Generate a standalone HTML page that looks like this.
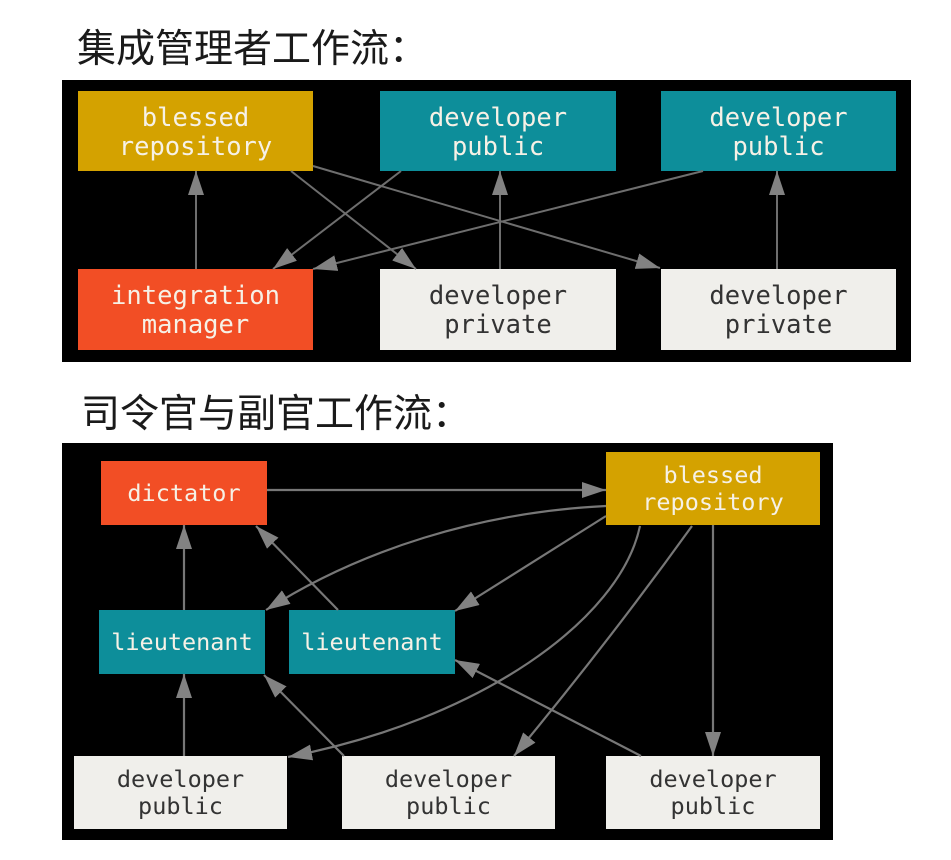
<!DOCTYPE html>
<html>
<head>
<meta charset="utf-8">
<style>
  html, body { margin: 0; padding: 0; background: #ffffff; }
  body { width: 951px; height: 860px; overflow: hidden; }
  svg { display: block; }
  .t { font-family: "Liberation Sans", "Noto Sans CJK SC", sans-serif; font-size: 39px; fill: #1a1a1a; }
  .m1 { font-family: "DejaVu Sans Mono", "Liberation Mono", monospace; font-size: 25.5px; text-anchor: middle; }
  .m2 { font-family: "DejaVu Sans Mono", "Liberation Mono", monospace; font-size: 23.5px; text-anchor: middle; }
  .w { fill: #f6f1e6; }
  .d { fill: #333333; }
  .ln { stroke: #6e6e6e; stroke-width: 2; fill: none; }
  .ln2 { stroke: #777777; stroke-width: 2.2; fill: none; }
</style>
</head>
<body>
<svg width="951" height="860" viewBox="0 0 951 860" xmlns="http://www.w3.org/2000/svg">
  <defs>
    <marker id="ah" markerUnits="userSpaceOnUse" markerWidth="24" markerHeight="16" refX="24" refY="8" orient="auto" viewBox="0 0 24 16">
      <path d="M0,0 L24,8 L0,16 z" fill="#828282"/>
    </marker>
  </defs>

  <!-- Title 1 -->
  <text class="t" x="77" y="62">集成管理者工作流：</text>

  <!-- Diagram 1 -->
  <rect x="62" y="80" width="849" height="282" fill="#000000"/>

  <rect x="78" y="91" width="235" height="80" fill="#d4a200"/>
  <rect x="380" y="91" width="236" height="80" fill="#0d8e9a"/>
  <rect x="661" y="91" width="235" height="80" fill="#0d8e9a"/>
  <rect x="78" y="269" width="235" height="81" fill="#f24e25"/>
  <rect x="380" y="269" width="236" height="81" fill="#f0efeb"/>
  <rect x="661" y="269" width="235" height="81" fill="#f0efeb"/>

  <text class="m1 w" x="195.5" y="126">blessed</text>
  <text class="m1 w" x="195.5" y="155">repository</text>
  <text class="m1 w" x="498" y="126">developer</text>
  <text class="m1 w" x="498" y="155">public</text>
  <text class="m1 w" x="778.5" y="126">developer</text>
  <text class="m1 w" x="778.5" y="155">public</text>
  <text class="m1 w" x="195.5" y="304">integration</text>
  <text class="m1 w" x="195.5" y="333">manager</text>
  <text class="m1 d" x="498" y="304">developer</text>
  <text class="m1 d" x="498" y="333">private</text>
  <text class="m1 d" x="778.5" y="304">developer</text>
  <text class="m1 d" x="778.5" y="333">private</text>

  <path class="ln" d="M196,269 L196,171" marker-end="url(#ah)"/>
  <path class="ln" d="M291,171 L416,269" marker-end="url(#ah)"/>
  <path class="ln" d="M313,166 L660,268" marker-end="url(#ah)"/>
  <path class="ln" d="M401,171 L273,269" marker-end="url(#ah)"/>
  <path class="ln" d="M703,171 L313,269" marker-end="url(#ah)"/>
  <path class="ln" d="M500,269 L500,171" marker-end="url(#ah)"/>
  <path class="ln" d="M777,269 L777,171" marker-end="url(#ah)"/>

  <!-- Title 2 -->
  <text class="t" x="81" y="427">司令官与副官工作流：</text>

  <!-- Diagram 2 -->
  <rect x="62" y="443" width="771" height="397" fill="#000000"/>

  <rect x="101" y="461" width="166" height="64" fill="#f24e25"/>
  <rect x="606" y="452" width="214" height="73" fill="#d4a200"/>
  <rect x="99" y="610" width="166" height="64" fill="#0d8e9a"/>
  <rect x="289" y="610" width="166" height="64" fill="#0d8e9a"/>
  <rect x="74" y="756" width="213" height="73" fill="#f0efeb"/>
  <rect x="342" y="756" width="213" height="73" fill="#f0efeb"/>
  <rect x="606" y="756" width="214" height="73" fill="#f0efeb"/>

  <text class="m2 w" x="184" y="501">dictator</text>
  <text class="m2 w" x="713" y="483">blessed</text>
  <text class="m2 w" x="713" y="510">repository</text>
  <text class="m2 w" x="182" y="650">lieutenant</text>
  <text class="m2 w" x="372" y="650">lieutenant</text>
  <text class="m2 d" x="180.5" y="787">developer</text>
  <text class="m2 d" x="180.5" y="814">public</text>
  <text class="m2 d" x="448.5" y="787">developer</text>
  <text class="m2 d" x="448.5" y="814">public</text>
  <text class="m2 d" x="713" y="787">developer</text>
  <text class="m2 d" x="713" y="814">public</text>

  <path class="ln2" d="M267,490 L606,490" marker-end="url(#ah)"/>
  <path class="ln2" d="M184,610 L184,525" marker-end="url(#ah)"/>
  <path class="ln2" d="M338,610 L256,526" marker-end="url(#ah)"/>
  <path class="ln2" d="M606,506 C480,512 360,550 266,610" marker-end="url(#ah)"/>
  <path class="ln2" d="M606,516 L455,611" marker-end="url(#ah)"/>
  <path class="ln2" d="M640,526 C620,620 480,720 288,757" marker-end="url(#ah)"/>
  <path class="ln2" d="M692,526 Q610,640 514,756" marker-end="url(#ah)"/>
  <path class="ln2" d="M713,525 L713,756" marker-end="url(#ah)"/>
  <path class="ln2" d="M641,756 L455,660" marker-end="url(#ah)"/>
  <path class="ln2" d="M184,756 L184,674" marker-end="url(#ah)"/>
  <path class="ln2" d="M344,756 L264,675" marker-end="url(#ah)"/>
</svg>
</body>
</html>
